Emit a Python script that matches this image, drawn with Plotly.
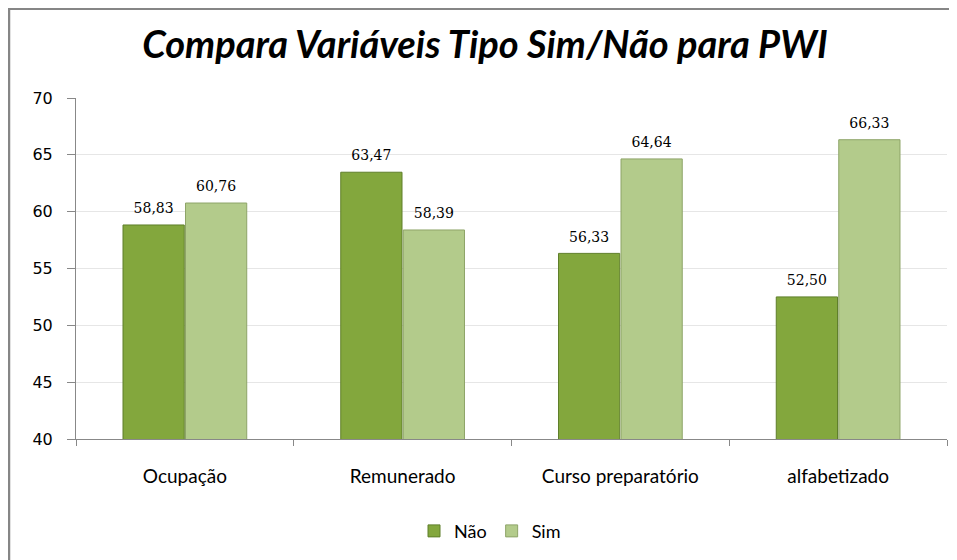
import plotly.graph_objects as go

categories = ["Ocupação", "Remunerado", "Curso preparatório", "alfabetizado"]
nao_values = [58.83, 63.47, 56.33, 52.50]
sim_values = [60.76, 58.39, 64.64, 66.33]
y_ticks = [40, 45, 50, 55, 60, 65, 70]

# page body has an 8px default margin, so work in figure-local pixels
OFF = 8
W, H = 957 - OFF, 560 - OFF
L, R, T, B = 76 - OFF, 10, 98 - OFF, 118
pw, ph = W - L - R, H - T - B

def px_x(x):
    return (x - OFF - L) / pw

def px_y(y):
    return (H - B - (y - OFF)) / ph

# small base size gives a short spacer line under the value
label_font = dict(family="DejaVu Serif", size=6, color="#000000")
label_tpl = "<span style='font-size:14px'>%{y:.2f}</span><br> "

fig = go.Figure()
fig.add_trace(go.Bar(
    name="Não", x=categories, y=nao_values,
    marker=dict(color="#83a73d", line=dict(color="#5f7f2a", width=1)),
    texttemplate=label_tpl, textposition="outside", textfont=label_font,
    cliponaxis=False,
))
fig.add_trace(go.Bar(
    name="Sim", x=categories, y=sim_values,
    marker=dict(color="#b3cb8b", line=dict(color="#8ea468", width=1)),
    texttemplate=label_tpl, textposition="outside", textfont=label_font,
    cliponaxis=False,
))

fig.update_layout(
    width=W, height=H,
    margin=dict(l=L, r=R, t=T, b=B),
    paper_bgcolor="white", plot_bgcolor="white",
    separators=",.",
    barmode="group", bargap=0.426, bargroupgap=0.02,
    title=dict(
        text="<i><b>Compara Variáveis Tipo Sim/Não para PWI</b></i>",
        x=(485 - OFF) / W, xref="container", xanchor="center",
        y=1 - (45 - OFF) / H, yanchor="middle",
        font=dict(family="Lato", size=38, color="#000000"),
    ),
    legend=dict(
        orientation="h", x=px_x(490), xanchor="center",
        y=px_y(535), yanchor="middle",
        font=dict(family="Lato", size=18, color="#000000"),
        itemwidth=30, traceorder="normal",
    ),
    showlegend=True,
    shapes=[dict(
        type="rect", xref="paper", yref="paper",
        x0=px_x(9), x1=px_x(1100), y0=px_y(700), y1=px_y(8),
        line=dict(color="#868686", width=2.5), fillcolor="rgba(0,0,0,0)",
        layer="below",
    )],
)

fig.update_xaxes(
    showline=True, linecolor="#888888", linewidth=1,
    ticks="outside", tickson="boundaries", ticklen=6, tickcolor="#888888",
    tickfont=dict(family="Lato", size=19, color="#000000"),
    ticklabelstandoff=20,
    showgrid=False,
)
fig.update_yaxes(
    range=[40, 70], tickvals=y_ticks,
    showline=True, linecolor="#888888", linewidth=1,
    ticks="outside", ticklen=8, tickcolor="#888888",
    tickfont=dict(family="DejaVu Sans", size=16, color="#000000"),
    ticklabelstandoff=11,
    showgrid=True, gridcolor="#e6e6e6", gridwidth=1,
    zeroline=False,
)

fig.write_html("out.html")
